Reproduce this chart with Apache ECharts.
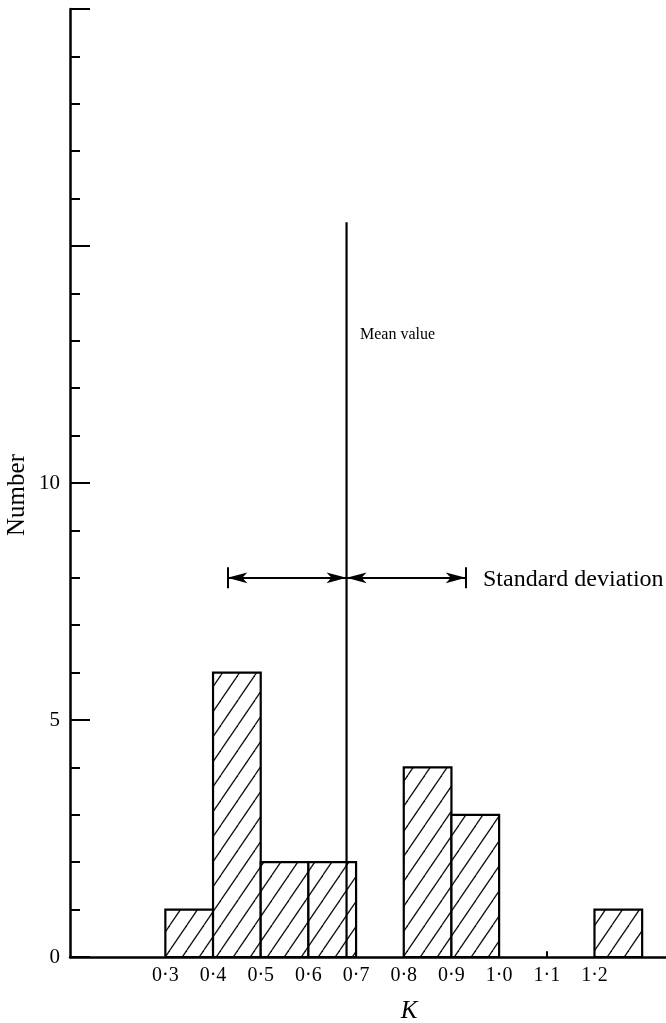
<!DOCTYPE html>
<html>
<head>
<meta charset="utf-8">
<script src="https://cdn.jsdelivr.net/npm/echarts@6/dist/echarts.min.js"></script>
<style>
  html, body { margin: 0; padding: 0; background: #fff; }
  #chart { width: 666px; height: 1023px; }
</style>
</head>
<body>
<div id="chart"></div>
<script>
// Histogram of K: left edges of the 0.1-wide classes and the count in each
const binStart = [0.3, 0.4, 0.5, 0.6, 0.8, 0.9, 1.2];
const binCount = [1, 6, 2, 2, 4, 3, 1];
const binWidth = 0.1;

// Mean and standard deviation markers
const meanK = 0.68;
const meanLineTop = 15.5;
const sdK = 0.25;
const sdLevel = 8;

// Axis tick labels
const kTickValues = [0.3, 0.4, 0.5, 0.6, 0.7, 0.8, 0.9, 1.0, 1.1, 1.2];
const kTickLabels = ['0·3', '0·4', '0·5', '0·6', '0·7', '0·8', '0·9', '1·0', '1·1', '1·2'];
const numberTickValues = [0, 5, 10];
const numberTickLabels = ['0', '5', '10'];

const SERIF = '"Liberation Serif", "DejaVu Serif", serif';

// Diagonal hatching tile for the bars
function hatchTile() {
  const w = 17, h = 25;
  const c = document.createElement('canvas');
  c.width = w; c.height = h;
  const g = c.getContext('2d');
  g.fillStyle = '#fff';
  g.fillRect(0, 0, w, h);
  g.strokeStyle = '#111';
  g.lineWidth = 1.3;
  for (const dx of [-w, 0, w]) {
    g.beginPath();
    g.moveTo(dx, h);
    g.lineTo(dx + w, 0);
    g.stroke();
  }
  return c;
}
const hatch = { image: hatchTile(), repeat: 'repeat' };

const chart = echarts.init(document.getElementById('chart'), null, { renderer: 'canvas' });

const histData = binStart.map((s, i) => [s, s + binWidth, binCount[i]]);

const arrowLine = { color: '#000', width: 2, type: 'solid' };

chart.setOption({
  animation: false,
  backgroundColor: '#fff',
  grid: { left: 70, right: 0, top: 9, bottom: 66, containLabel: false },
  xAxis: {
    type: 'value',
    min: 0.1,
    max: 1.35,
    interval: 0.1,
    axisLine: { show: true, onZero: false, lineStyle: { color: '#000', width: 2.5 } },
    axisTick: { show: false },
    splitLine: { show: false },
    axisLabel: {
      show: true,
      showMaxLabel: false,
      margin: 9,
      color: '#000',
      fontFamily: SERIF,
      fontSize: 20,
      formatter: function (v) {
        const i = kTickValues.findIndex(t => Math.abs(t - v) < 1e-6);
        return i >= 0 ? kTickLabels[i] : '';
      }
    }
  },
  yAxis: {
    type: 'value',
    min: 0,
    max: 20,
    interval: 5,
    axisLine: { show: true, lineStyle: { color: '#000', width: 2.5 } },
    axisTick: { show: true, inside: true, length: 20, lineStyle: { color: '#000', width: 2 } },
    minorTick: { show: true, splitNumber: 5, length: 10, lineStyle: { color: '#000', width: 2 } },
    splitLine: { show: false },
    minorSplitLine: { show: false },
    axisLabel: {
      margin: 10,
      color: '#000',
      fontFamily: SERIF,
      fontSize: 21,
      formatter: function (v) {
        const i = numberTickValues.indexOf(v);
        return i >= 0 ? numberTickLabels[i] : '';
      }
    }
  },
  graphic: [
    {
      type: 'text',
      x: 17, y: 495,
      rotation: Math.PI / 2,
      style: { text: 'Number', font: '25px ' + SERIF, fill: '#000', align: 'center', verticalAlign: 'middle' }
    },
    {
      type: 'text',
      x: 409, y: 1011,
      style: { text: 'K', font: 'italic 25px ' + SERIF, fill: '#000', align: 'center', verticalAlign: 'middle' }
    },
    {
      type: 'text',
      x: 360, y: 335,
      style: { text: 'Mean value', font: '16px ' + SERIF, fill: '#000', align: 'left', verticalAlign: 'middle' }
    },
    {
      type: 'text',
      x: 483, y: 580,
      style: { text: 'Standard deviation', font: '24px ' + SERIF, fill: '#000', align: 'left', verticalAlign: 'middle' }
    }
  ],
  series: [
    {
      type: 'custom',
      name: 'Histogram',
      data: histData,
      encode: { x: [0, 1], y: 2 },
      renderItem: function (params, api) {
        const p0 = api.coord([api.value(0), api.value(2)]);
        const p1 = api.coord([api.value(1), 0]);
        return {
          type: 'rect',
          shape: { x: p0[0], y: p0[1], width: p1[0] - p0[0], height: p1[1] - p0[1] },
          style: { fill: hatch, stroke: '#000', lineWidth: 2.2 }
        };
      },
      z: 2
    },
    {
      type: 'line',
      name: 'Mean value',
      data: [[meanK, 0], [meanK, meanLineTop]],
      symbol: 'none',
      lineStyle: { color: '#000', width: 2.2 },
      silent: true,
      z: 3
    },
    {
      type: 'line',
      name: 'Standard deviation',
      data: [],
      silent: true,
      z: 4,
      markLine: {
        silent: true,
        animation: false,
        label: { show: false },
        lineStyle: arrowLine,
        symbol: ['arrow', 'arrow'],
        symbolSize: [8, 20],
        data: [
          [{ coord: [meanK - sdK, sdLevel] }, { coord: [meanK, sdLevel] }],
          [{ coord: [meanK, sdLevel] }, { coord: [meanK + sdK, sdLevel] }],
          [{ coord: [meanK - sdK, sdLevel - 0.22], symbol: 'none' }, { coord: [meanK - sdK, sdLevel + 0.22], symbol: 'none' }],
          [{ coord: [meanK + sdK, sdLevel - 0.22], symbol: 'none' }, { coord: [meanK + sdK, sdLevel + 0.22], symbol: 'none' }],
          // small tick on the K axis at 1·1
          [{ coord: [1.1, 0], symbol: 'none' }, { coord: [1.1, 0.12], symbol: 'none' }]
        ]
      }
    }
  ]
});
</script>
</body>
</html>
